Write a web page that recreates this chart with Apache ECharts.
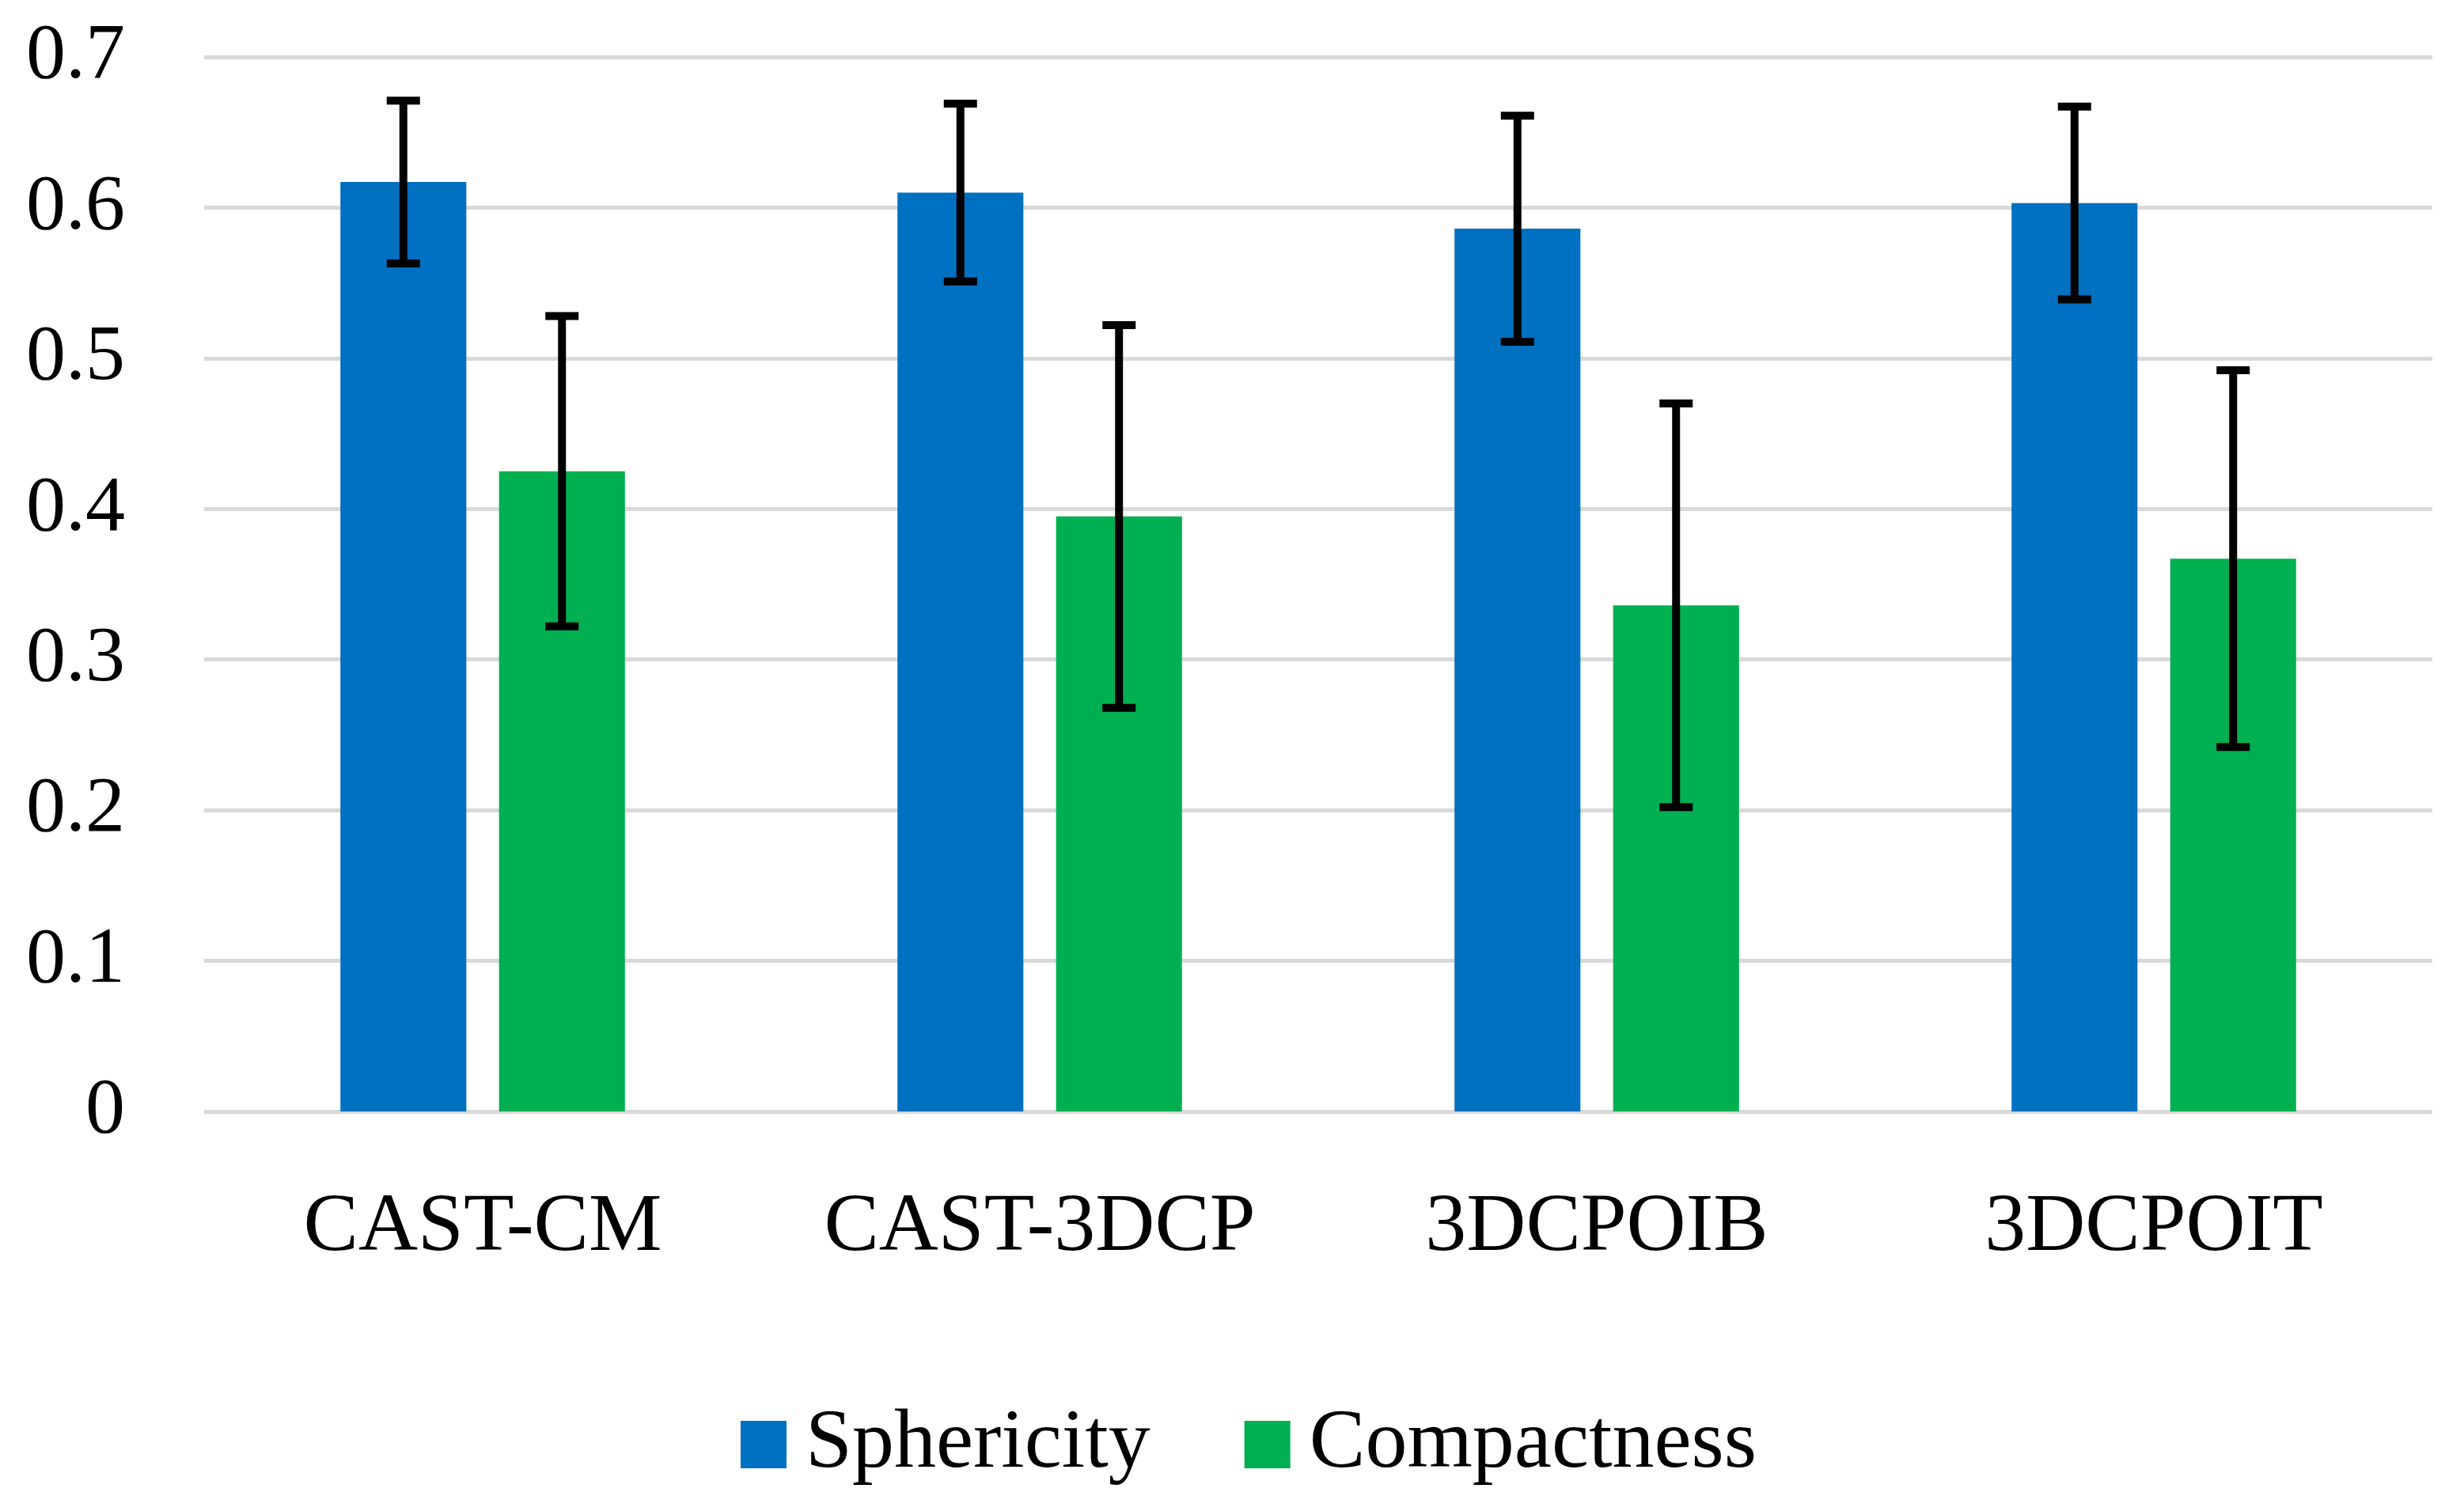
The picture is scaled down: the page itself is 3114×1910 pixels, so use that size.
<!DOCTYPE html>
<html>
<head>
<meta charset="utf-8">
<script src="https://cdn.jsdelivr.net/npm/echarts@6/dist/echarts.min.js"></script>
<style>
html,body{margin:0;padding:0;background:#fff;}
#chart{width:3114px;height:1910px;}
</style>
</head>
<body>
<div id="chart"></div>
<script>
const categories = ['CAST-CM', 'CAST-3DCP', '3DCPOIB', '3DCPOIT'];
const seriesNames = ['Sphericity', 'Compactness'];
const sphericity = [0.617, 0.610, 0.586, 0.603];
const sphericityErr = [0.054, 0.059, 0.075, 0.064];
const compactness = [0.425, 0.395, 0.336, 0.367];
const compactnessErr = [0.103, 0.127, 0.134, 0.125];
const yTickLabels = ['0', '0.1', '0.2', '0.3', '0.4', '0.5', '0.6', '0.7'];

const colors = ['#0070C0', '#00B050'];
const FONT = '"Liberation Serif", "DejaVu Serif", serif';
const BAR_W = 0.226;   // fraction of category width
const BAR_GAP = 0.26;  // fraction of bar width

function errData(vals, errs) {
  return vals.map((v, i) => [i, v - errs[i], v + errs[i]]);
}

function errRender(sign) {
  return function (params, api) {
    const idx = api.value(0);
    const lowP = api.coord([idx, api.value(1)]);
    const highP = api.coord([idx, api.value(2)]);
    const bandW = api.size([1, 0])[0];
    const off = sign * (BAR_W * bandW * (1 + BAR_GAP)) / 2;
    const x = lowP[0] + off;
    const capHalf = 21;
    const style = { stroke: '#000', lineWidth: 10, fill: null };
    return {
      type: 'group',
      children: [
        { type: 'line', shape: { x1: x, y1: highP[1], x2: x, y2: lowP[1] }, style: style },
        { type: 'line', shape: { x1: x - capHalf, y1: highP[1], x2: x + capHalf, y2: highP[1] }, style: style },
        { type: 'line', shape: { x1: x - capHalf, y1: lowP[1], x2: x + capHalf, y2: lowP[1] }, style: style }
      ]
    };
  };
}

const chart = echarts.init(document.getElementById('chart'), null, { renderer: 'canvas' });
chart.setOption({
  animation: false,
  backgroundColor: '#fff',
  grid: { left: 258, right: 40, top: 72, bottom: 505, containLabel: false },
  legend: {
    data: seriesNames,
    left: 931,
    top: 1768,
    itemWidth: 58,
    itemHeight: 60,
    itemGap: 119,
    icon: 'rect',
    textStyle: { fontFamily: FONT, fontSize: 106, color: '#000', padding: [0, 0, 0, 19] }
  },
  xAxis: {
    type: 'category',
    data: categories,
    axisLine: { show: false },
    axisTick: { show: false },
    axisLabel: { fontFamily: FONT, fontSize: 104, color: '#000', margin: 96, interval: 0 }
  },
  yAxis: {
    type: 'value',
    min: 0,
    max: 0.7,
    interval: 0.1,
    axisLine: { show: false },
    axisTick: { show: false },
    splitLine: { lineStyle: { color: '#D9D9D9', width: 5 } },
    axisLabel: {
      fontFamily: FONT, fontSize: 100, color: '#000', margin: 100,
      formatter: function (v) { return yTickLabels[Math.round(v * 10)]; }
    }
  },
  series: [
    {
      name: seriesNames[0], type: 'bar', data: sphericity,
      barWidth: (BAR_W * 100) + '%', barGap: (BAR_GAP * 100) + '%',
      itemStyle: { color: colors[0] }
    },
    {
      name: seriesNames[1], type: 'bar', data: compactness,
      barWidth: (BAR_W * 100) + '%', barGap: (BAR_GAP * 100) + '%',
      itemStyle: { color: colors[1] }
    },
    {
      type: 'custom', renderItem: errRender(-1), data: errData(sphericity, sphericityErr),
      encode: { x: 0, y: [1, 2] }, z: 10, silent: true
    },
    {
      type: 'custom', renderItem: errRender(1), data: errData(compactness, compactnessErr),
      encode: { x: 0, y: [1, 2] }, z: 10, silent: true
    }
  ]
});
</script>
</body>
</html>
